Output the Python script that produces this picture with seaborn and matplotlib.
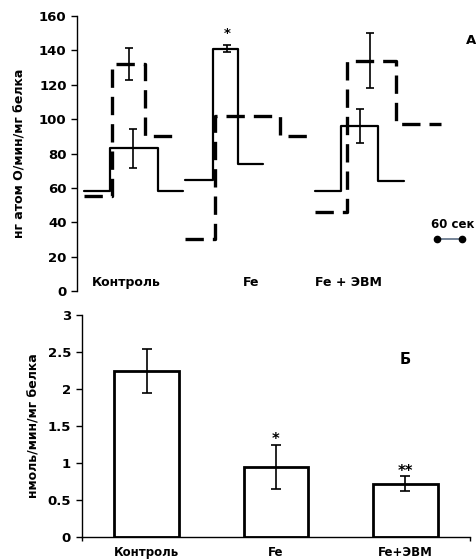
import numpy as np
import pandas as pd
import matplotlib
matplotlib.use("Agg")
import matplotlib.pyplot as plt
import seaborn as sns

sns.set_theme(style="white")
plt.rcParams["font.family"] = ["DejaVu Sans"]
plt.rcParams["font.weight"] = "bold"
plt.rcParams["axes.labelweight"] = "bold"
plt.rcParams["text.color"] = "black"
plt.rcParams["axes.labelcolor"] = "black"
plt.rcParams["xtick.color"] = "black"
plt.rcParams["ytick.color"] = "black"

# --- panel A: respiration traces (time in seconds, rate in ng atom O/min/mg protein)
groups = ["Контроль", "Fe", "Fe + ЭВМ"]
solid_edges = [[17, 79, 194, 254], [259, 326, 386, 446], [571, 634, 722, 785]]
solid_levels = [[58, 83, 58], [64.5, 141, 74], [58, 96, 64]]
dashed_edges = [[17, 84, 163, 240], [259, 331, 487, 557], [571, 648, 766, 874]]
dashed_levels = [[55, 132, 90], [30.5, 102, 90], [46, 134, 97]]

solid_err_t = [134, 360, 679]
solid_err_mean = [83, 141, 96]
solid_err = [11.5, 2, 10]
dashed_err_t = [125, 703]
dashed_err_mean = [132, 134]
dashed_err = [9.5, 16]

label_t = [36, 418, 571]

# --- panel Б: bar chart
bar_cats = ["Контроль", "Fe", "Fe+ЭВМ"]
bar_vals = [2.24, 0.95, 0.72]
bar_err = [0.30, 0.30, 0.10]
bar_marks = ["", "*", "**"]


def step_frame(edges, levels, name):
    rows = []
    for i, (e, lv) in enumerate(zip(edges, levels)):
        ys = list(lv) + [lv[-1]]
        for t, y in zip(e, ys):
            rows.append({"t": t, "v": y, "g": f"{name}{i}"})
    return pd.DataFrame(rows)


fig = plt.figure(figsize=(4.76, 5.6), dpi=100)
axA = fig.add_axes([77 / 476, 1 - 291 / 560, 399 / 476, 275 / 560])
axB = fig.add_axes([82 / 476, 1 - 537 / 560, 388 / 476, 222 / 560])

solid_df = step_frame(solid_edges, solid_levels, "s")
dashed_df = step_frame(dashed_edges, dashed_levels, "d")

for g, sub in solid_df.groupby("g"):
    sns.lineplot(data=sub, x="t", y="v", ax=axA, color="black", lw=1.6,
                 drawstyle="steps-post", sort=False, estimator=None)
for g, sub in dashed_df.groupby("g"):
    sns.lineplot(data=sub, x="t", y="v", ax=axA, color="black", lw=2.4,
                 drawstyle="steps-post", sort=False, estimator=None,
                 dashes=False).lines[-1].set_dashes((5.5, 2.7))

axA.errorbar(solid_err_t, solid_err_mean, yerr=solid_err, fmt="none",
             ecolor="black", elinewidth=1.2, capsize=2.6, capthick=1.2)
axA.errorbar(dashed_err_t, dashed_err_mean, yerr=dashed_err, fmt="none",
             ecolor="black", elinewidth=1.2, capsize=2.6, capthick=1.2)
axA.text(solid_err_t[1], 150, "*", ha="center", va="center", fontsize=9.5, fontweight="bold")

txt = dict(va="center", fontsize=9, fontweight="bold")
axA.text(label_t[0], 5, groups[0], ha="left", **txt)
axA.text(label_t[1], 5, groups[1], ha="center", **txt)
axA.text(label_t[2], 5, groups[2], ha="left", **txt)
axA.text(945, 146, "А", ha="center", va="center", fontsize=9.5, fontweight="bold")

# 60 s scale bar
axA.plot([864, 924], [30, 30], color="#6a7b90", lw=1.3)
axA.plot([864, 924], [30, 30], "o", color="black", ms=4.5)
axA.text(902, 38.5, "60 сек", ha="center", va="center", fontsize=8.5, fontweight="bold")

axA.set_xlim(0, 958)
axA.set_ylim(0, 160)
axA.set_yticks(np.arange(0, 161, 20))
axA.set_xticks([])
for s in ["top", "right", "bottom"]:
    axA.spines[s].set_visible(False)
axA.spines["left"].set_color("black")
axA.spines["left"].set_linewidth(1.0)
axA.tick_params(axis="y", left=True, length=4, width=1, labelsize=9.5, pad=3.5, color="black")
axA.set_xlabel("")
axA.set_ylabel("нг атом О/мин/мг белка", fontsize=9, fontweight="bold", labelpad=9)

# panel Б
bdf = pd.DataFrame({"cat": bar_cats, "val": bar_vals})
sns.barplot(data=bdf, x="cat", y="val", ax=axB, color="white", edgecolor="black",
            linewidth=2.0, width=0.5, errorbar=None)
axB.errorbar(range(3), bar_vals, yerr=bar_err, fmt="none", ecolor="black",
             elinewidth=1.2, capsize=3.6, capthick=1.2)
for i, m in enumerate(bar_marks):
    if m:
        axB.text(i, bar_vals[i] + bar_err[i] + 0.07, m, ha="center", va="center",
                 fontsize=10.5, fontweight="bold")
axB.text(2, 2.4, "Б", ha="center", va="center", fontsize=10.5, fontweight="bold")

axB.set_xlim(-0.5, 2.5)
axB.set_ylim(0, 3)
axB.set_yticks([0, 0.5, 1, 1.5, 2, 2.5, 3])
axB.set_yticklabels(["0", "0.5", "1", "1.5", "2", "2.5", "3"])
axB.set_xticks([-0.5, 2.5], minor=True)
for s in ["top", "right"]:
    axB.spines[s].set_visible(False)
for s in ["left", "bottom"]:
    axB.spines[s].set_color("black")
    axB.spines[s].set_linewidth(1.0)
axB.tick_params(axis="y", left=True, length=4, width=1, labelsize=9.5, pad=4, color="black")
axB.tick_params(axis="x", which="major", bottom=False, labelsize=8.5, pad=0.5)
axB.tick_params(axis="x", which="minor", bottom=True, length=3, width=1, color="black")
axB.set_xlabel("")
axB.set_ylabel("нмоль/мин/мг белка", fontsize=9, fontweight="bold", labelpad=5)

for ax in (axA, axB):
    for lab in ax.get_xticklabels() + ax.get_yticklabels():
        lab.set_fontweight("bold")

fig.savefig("out.png", dpi=100)
